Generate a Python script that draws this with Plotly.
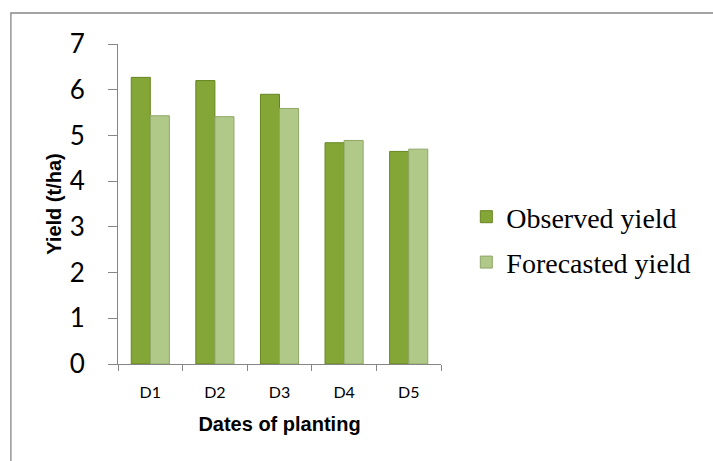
import plotly.graph_objects as go

categories = ["D1", "D2", "D3", "D4", "D5"]
observed = [6.27, 6.20, 5.90, 4.84, 4.65]
forecasted = [5.43, 5.41, 5.59, 4.89, 4.70]
y_ticks = [0, 1, 2, 3, 4, 5, 6, 7]

W, H = 713, 461
L, R, T, B = 118, 440.7, 44, 364

fig = go.Figure()
fig.add_trace(go.Bar(
    x=categories, y=observed, name="Observed yield",
    marker=dict(color="#84a636", line=dict(color="#66851f", width=1)),
    legendgroup="a",
))
fig.add_trace(go.Bar(
    x=categories, y=forecasted, name="Forecasted yield",
    marker=dict(color="#b0c888", line=dict(color="#8fa767", width=1)),
    legendgroup="b",
))

def px2paper_x(px):
    return (px - L) / (R - L)

def px2paper_y(py):
    return (B - py) / (B - T)

fig.add_shape(type="rect", xref="paper", yref="paper",
              x0=px2paper_x(11), x1=px2paper_x(740),
              y0=px2paper_y(490), y1=px2paper_y(13),
              line=dict(color="#868686", width=1.3), layer="below")

fig.update_layout(
    width=W, height=H,
    margin=dict(l=L, r=W - R, t=T, b=H - B, pad=0),
    paper_bgcolor="white", plot_bgcolor="white",
    barmode="group", bargap=0.41, bargroupgap=0,
    showlegend=True,
    legend=dict(
        x=px2paper_x(466), y=px2paper_y(192), xanchor="left", yanchor="top",
        font=dict(family="Liberation Serif, Times New Roman, serif", size=28, color="black"),
        traceorder="grouped", tracegroupgap=6, itemwidth=30,
        bgcolor="rgba(0,0,0,0)",
    ),
    xaxis=dict(
        showline=True, linecolor="#868686", linewidth=1,
        ticks="outside", tickson="boundaries", ticklen=6, tickcolor="#868686",
        tickfont=dict(family="Lato, Calibri, sans-serif", size=16, color="black"),
        ticklabelstandoff=14,
        title=dict(text="Dates of planting",
                   font=dict(family="Liberation Sans, Arial, sans-serif", size=20,
                             color="black", weight="bold"),
                   standoff=16),
        showgrid=False, zeroline=False,
    ),
    yaxis=dict(
        range=[0, 7], tickvals=y_ticks,
        showline=True, linecolor="#868686", linewidth=1,
        ticks="outside", ticklen=9, tickcolor="#868686",
        tickfont=dict(family="Lato, Calibri, sans-serif", size=26, color="black"),
        ticklabelstandoff=18,
        title=dict(text="Yield (t/ha)",
                   font=dict(family="Liberation Sans, Arial, sans-serif", size=20,
                             color="black", weight="bold"),
                   standoff=2),
        showgrid=False, zeroline=False,
    ),
)

fig.write_html("out.html")
